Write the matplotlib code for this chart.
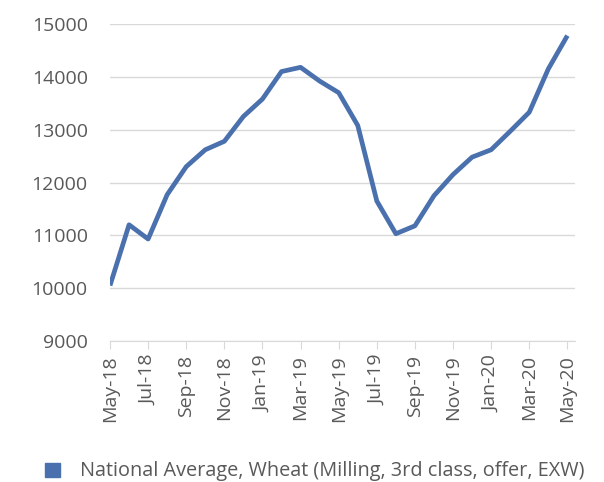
import numpy as np
import matplotlib.pyplot as plt
from matplotlib.patches import Rectangle

plt.rcParams['font.family'] = ['Open Sans', 'DejaVu Sans']

months = ['May-18', 'Jun-18', 'Jul-18', 'Aug-18', 'Sep-18', 'Oct-18', 'Nov-18',
          'Dec-18', 'Jan-19', 'Feb-19', 'Mar-19', 'Apr-19', 'May-19', 'Jun-19',
          'Jul-19', 'Aug-19', 'Sep-19', 'Oct-19', 'Nov-19', 'Dec-19', 'Jan-20',
          'Feb-20', 'Mar-20', 'Apr-20', 'May-20']
wheat = [10050, 11200, 10930, 11770, 12300, 12620, 12780, 13250, 13580, 14100,
         14180, 13920, 13700, 13080, 11650, 11030, 11180, 11750, 12150, 12480,
         12620, 12970, 13330, 14150, 14780]
series_name = 'National Average, Wheat (Milling, 3rd class, offer, EXW)'
yticks = [9000, 10000, 11000, 12000, 13000, 14000, 15000]

grey = '#595959'
line_col = '#4a71ad'

fig = plt.figure(figsize=(6.04, 4.82), dpi=100, facecolor='white')
# axes box in pixels: x 110..575, y 24..341
ax = fig.add_axes([110 / 604, 1 - 341 / 482, 465 / 604, 317 / 482])

x = np.arange(len(months))
ax.plot(x, wheat, color=line_col, lw=3.4, solid_joinstyle='round',
        solid_capstyle='butt', zorder=3)

ax.set_ylim(9000, 15000)
ax.set_xlim(0, 24.4)
ax.set_yticks(yticks)
ax.set_yticklabels([str(v) for v in yticks], color=grey, fontsize=14)
ax.yaxis.grid(True, color='#d9d9d9', lw=1)
ax.tick_params(axis='y', length=0, pad=16)

ax.set_xticks(x[::2])
ax.set_xticklabels(months[::2], rotation=90, color=grey, fontsize=14)
ax.tick_params(axis='x', length=6, color='#d9d9d9', pad=4)

for s in ['top', 'right', 'left']:
    ax.spines[s].set_visible(False)
ax.spines['bottom'].set_color('#d9d9d9')
ax.set_axisbelow(True)

# legend at the bottom
fig.patches.append(Rectangle((45 / 604, 1 - 477 / 482), 15 / 604, 14 / 482,
                             transform=fig.transFigure, color=line_col))
fig.text(80 / 604, 1 - 471 / 482, series_name, color=grey, fontsize=14.3,
         va='center', ha='left')

fig.savefig('out.png', dpi=100, facecolor='white')
